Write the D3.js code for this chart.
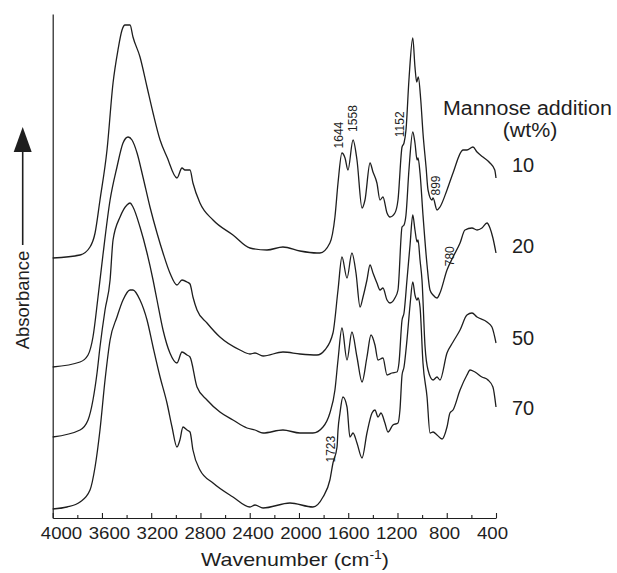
<!DOCTYPE html>
<html>
<head>
<meta charset="utf-8">
<script src="https://cdn.jsdelivr.net/npm/d3@7/dist/d3.min.js"></script>
<style>
  body { margin: 0; background: #fff; }
  svg { display: block; font-family: "Liberation Sans", Arial, Helvetica, sans-serif; }
</style>
</head>
<body>
<div id="chart"></div>
<script>
// FTIR spectra, mannose addition (wt%) -- stacked, arbitrary absorbance units
var additions = ["10", "20", "50", "70"];

var spec10 = [[4000,2.60],[3778,2.63],[3697,2.71],[3656,2.85],[3616,3.18],[3559,3.68],[3510,4.35],[3470,4.68],
  [3437,4.88],[3413,4.93],[3372,4.93],[3348,4.81],[3291,4.61],[3234,4.31],[3185,4.05],[3128,3.78],[3072,3.61],
  [2991,3.40],[2950,3.50],[2926,3.48],[2885,3.48],[2861,3.35],[2804,3.15],[2698,2.98],[2536,2.83],[2398,2.70],
  [2260,2.68],[2130,2.71],[1992,2.67],[1854,2.65],[1830,2.65],[1749,2.75],[1708,3.01],[1683,3.35],[1651,3.65],
  [1626,3.60],[1602,3.48],[1561,3.78],[1529,3.58],[1488,3.10],[1464,3.18],[1423,3.55],[1399,3.46],[1367,3.35],
  [1342,3.18],[1318,3.21],[1285,3.05],[1261,3.01],[1221,3.05],[1196,3.18],[1163,3.71],[1147,3.75],[1131,3.88],
  [1107,4.38],[1076,4.80],[1058,4.51],[1044,4.36],[1031,4.41],[1011,4.18],[993,3.85],[968,3.51],[952,3.28],
  [920,3.18],[911,3.20],[879,3.08],[855,3.11],[798,3.28],[749,3.45],[668,3.68],[636,3.68],[587,3.71],
  [554,3.66],[506,3.61],[449,3.55],[410,3.48],[400,3.40]];

var spec20 = [[4000,1.51],[3778,1.56],[3713,1.63],[3673,1.81],[3632,2.21],[3592,2.63],[3534,3.18],[3478,3.51],
  [3429,3.75],[3388,3.81],[3356,3.78],[3315,3.65],[3267,3.41],[3210,3.11],[3153,2.85],[3104,2.65],[3048,2.45],
  [2991,2.33],[2950,2.38],[2909,2.36],[2885,2.34],[2861,2.21],[2828,2.08],[2747,1.95],[2642,1.81],[2479,1.68],
  [2398,1.64],[2357,1.65],[2292,1.62],[2130,1.66],[1992,1.64],[1854,1.63],[1790,1.68],[1724,1.85],[1683,2.28],
  [1651,2.61],[1610,2.40],[1570,2.65],[1537,2.45],[1504,2.11],[1480,2.21],[1448,2.38],[1423,2.53],[1399,2.45],
  [1367,2.35],[1342,2.28],[1318,2.30],[1285,2.18],[1261,2.15],[1221,2.20],[1196,2.28],[1163,2.91],[1147,2.93],
  [1131,3.03],[1107,3.48],[1076,3.86],[1058,3.75],[1041,3.58],[1033,3.60],[1017,3.45],[993,3.03],[960,2.53],
  [936,2.28],[911,2.23],[879,2.20],[855,2.25],[798,2.48],[749,2.61],[692,2.75],[652,2.88],[595,2.90],
  [554,2.88],[514,2.90],[473,2.95],[449,2.90],[425,2.80],[400,2.65]];

var spec50 = [[4000,0.81],[3778,0.88],[3713,0.98],[3673,1.18],[3640,1.45],[3616,1.71],[3575,2.08],[3534,2.38],
  [3510,2.78],[3453,3.01],[3397,3.13],[3372,3.15],[3348,3.11],[3291,2.91],[3234,2.65],[3185,2.38],[3153,2.18],
  [3104,1.88],[3048,1.65],[2991,1.55],[2950,1.66],[2909,1.63],[2885,1.61],[2828,1.31],[2747,1.18],[2642,1.06],
  [2536,0.98],[2422,0.90],[2357,0.88],[2292,0.85],[2130,0.88],[1992,0.85],[1887,0.85],[1805,0.91],[1749,1.05],
  [1708,1.28],[1683,1.58],[1651,1.90],[1610,1.58],[1570,1.86],[1529,1.61],[1488,1.36],[1448,1.61],[1415,1.83],
  [1383,1.73],[1358,1.58],[1318,1.60],[1285,1.43],[1245,1.45],[1204,1.46],[1188,1.55],[1163,1.98],[1147,2.05],
  [1123,2.38],[1098,2.73],[1076,3.03],[1058,2.88],[1041,2.76],[1033,2.78],[1017,2.58],[1001,2.38],[976,1.71],
  [952,1.48],[911,1.38],[879,1.41],[855,1.38],[798,1.65],[749,1.76],[692,1.88],[636,2.03],[595,2.05],
  [554,2.01],[473,1.96],[433,1.91],[400,1.75]];

var spec70 = [[4000,0.09],[3884,0.11],[3778,0.16],[3697,0.28],[3656,0.51],[3616,0.88],[3575,1.38],[3534,1.78],
  [3478,2.01],[3429,2.18],[3372,2.28],[3348,2.28],[3291,2.18],[3234,1.98],[3185,1.71],[3128,1.41],[3072,1.15],
  [3031,0.91],[2991,0.71],[2967,0.78],[2942,0.91],[2909,0.88],[2885,0.86],[2861,0.68],[2804,0.48],[2698,0.35],
  [2536,0.21],[2398,0.11],[2357,0.13],[2292,0.10],[2073,0.15],[1887,0.11],[1805,0.21],[1749,0.38],[1724,0.55],
  [1691,0.71],[1683,0.88],[1667,1.05],[1643,1.21],[1610,1.11],[1586,0.81],[1561,0.85],[1529,0.75],[1488,0.60],
  [1448,0.85],[1407,1.05],[1383,1.08],[1358,1.01],[1334,1.05],[1302,0.95],[1277,0.86],[1237,0.93],[1196,0.95],
  [1180,1.08],[1163,1.43],[1147,1.51],[1123,1.78],[1098,2.13],[1076,2.36],[1058,2.23],[1041,2.18],[1033,2.20],
  [1017,2.11],[993,1.55],[960,1.21],[936,0.85],[911,0.86],[879,0.83],[838,0.79],[798,0.91],[774,1.05],
  [749,1.08],[692,1.28],[636,1.43],[611,1.48],[571,1.46],[514,1.41],[465,1.38],[425,1.31],[400,1.11]];

var series = [spec10, spec20, spec50, spec70];

// band assignments: wavenumber label and which spectrum it marks
var bandLabels = ["1644", "1558", "1152", "899", "780", "1723"];
var bandWn = [1644, 1558, 1152, 899, 780, 1723];
var bandSeries = [0, 0, 0, 0, 1, 3];

var xTickLabels = [4000, 3600, 3200, 2800, 2400, 2000, 1600, 1200, 800, 400];

// layout
var W = 617, H = 573;
var x0 = 52.7, x1 = 496, yTop = 14, yBot = 518;
var bandDx = [-4, -1, -4, 1, 1, -2];
var bandDy = [-6, -10, -7, -7, 1, 0];
var labelY = [172, 253, 345, 415];

var svg = d3.select("#chart").append("svg")
  .attr("width", W).attr("height", H);

var x = d3.scaleLinear().domain([4000, 400]).range([x0, x1]);
var y = d3.scaleLinear().domain([0, 5.04]).range([yBot, yTop]);
// printed tick labels sit on a slightly tighter spacing than the ticks
var xLab = d3.scaleLinear().domain([4000, 400]).range([61, 492]);

var ink = "#1e1e1e";

// bottom axis: ticks every 200, pointing inward
var gx = svg.append("g")
  .attr("transform", "translate(0," + yBot + ")")
  .call(d3.axisBottom(x).tickValues(x.ticks(18)).tickSizeInner(-5).tickSizeOuter(0).tickFormat(""));
gx.select(".domain").attr("stroke", ink).attr("stroke-width", 1.2);
gx.selectAll(".tick line").attr("stroke", ink).attr("stroke-width", 1.1)
  .attr("y2", function(d) { return d % 400 === 0 ? -5 : -3; });

var gl = svg.append("g")
  .attr("transform", "translate(0," + yBot + ")")
  .call(d3.axisBottom(xLab).tickValues(xTickLabels).tickFormat(d3.format("d"))
    .tickSize(0).tickPadding(9));
gl.select(".domain").remove();
gl.selectAll(".tick text")
  .attr("font-family", "'Liberation Sans', Arial, sans-serif")
  .attr("font-size", 16.5).attr("fill", ink)
  .attr("transform", "scale(1.13,1)");

// left axis: plain line
var gy = svg.append("g")
  .attr("transform", "translate(" + x0 + ",0)")
  .call(d3.axisLeft(y).tickValues([]).tickSizeOuter(0));
gy.select(".domain").attr("stroke", ink).attr("stroke-width", 1.2);

// spectra
var line = d3.line()
  .x(function(d) { return x(d[0]); })
  .y(function(d) { return y(d[1]); })
  .curve(d3.curveMonotoneX);

svg.append("g").selectAll("path")
  .data(series)
  .enter().append("path")
  .attr("d", line)
  .attr("fill", "none")
  .attr("stroke", ink)
  .attr("stroke-width", 1.3)
  .attr("stroke-linejoin", "round");

// value of a spectrum at a wavenumber, read between listed points
function valueAt(s, wn) {
  for (var i = 1; i < s.length; i++) {
    if (s[i][0] <= wn) {
      var a = s[i - 1], b = s[i];
      var t = (a[0] - wn) / (a[0] - b[0]);
      return a[1] + t * (b[1] - a[1]);
    }
  }
  return s[s.length - 1][1];
}

// band labels (rotated)
svg.append("g").selectAll("text")
  .data(bandLabels)
  .enter().append("text")
  .attr("transform", function(d, i) {
    var px = x(bandWn[i]) + bandDx[i];
    var py = y(valueAt(series[bandSeries[i]], bandWn[i])) + bandDy[i];
    return "translate(" + px + "," + py + ") rotate(-90)";
  })
  .attr("dy", "0.35em")
  .attr("font-size", 12)
  .attr("fill", ink)
  .text(function(d) { return d; });

// legend
svg.append("text")
  .attr("transform", "translate(443,115) scale(1.07,1)")
  .attr("font-size", 20).attr("fill", ink)
  .text("Mannose addition");
svg.append("text")
  .attr("transform", "translate(530,137) scale(1.07,1)")
  .attr("text-anchor", "middle")
  .attr("font-size", 20).attr("fill", ink)
  .text("(wt%)");

svg.append("g").selectAll("text")
  .data(additions)
  .enter().append("text")
  .attr("x", 512)
  .attr("y", function(d, i) { return labelY[i]; })
  .attr("font-size", 20)
  .attr("fill", ink)
  .text(function(d) { return d; });

// x title
var xt = svg.append("text")
  .attr("transform", "translate(295,566) scale(1.16,1)")
  .attr("text-anchor", "middle")
  .attr("font-size", 18.5).attr("fill", ink);
xt.append("tspan").text("Wavenumber (cm");
xt.append("tspan").attr("dy", -7).attr("font-size", 12).text("-1");
xt.append("tspan").attr("dy", 7).text(")");

// y title with arrow
svg.append("text")
  .attr("transform", "translate(22.7,300) rotate(-90)")
  .attr("dy", "0.35em")
  .attr("text-anchor", "middle")
  .attr("font-size", 18.5).attr("fill", ink)
  .text("Absorbance");

svg.append("line")
  .attr("x1", 22.7).attr("x2", 22.7)
  .attr("y1", 245).attr("y2", 150)
  .attr("stroke", ink).attr("stroke-width", 1.6);
svg.append("path")
  .attr("d", "M13.7,152 L31.7,152 L22.7,127 Z")
  .attr("fill", ink);
</script>
</body>
</html>
